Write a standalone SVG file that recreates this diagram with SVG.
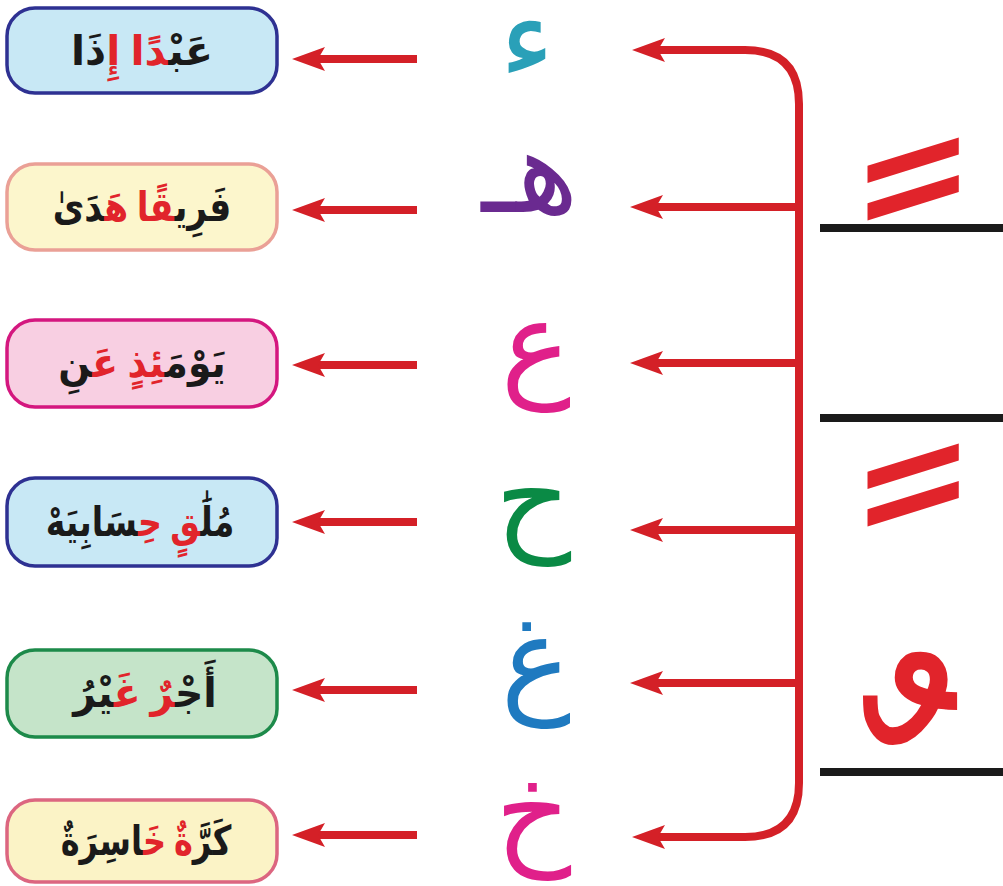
<svg xmlns="http://www.w3.org/2000/svg" width="1003" height="886" viewBox="0 0 1003 886">
<defs>
<style>
.box{stroke-width:3.5}
.word{font-family:"DejaVu Sans",sans-serif;font-size:41px;font-weight:bold;fill:#1a1a1a;text-anchor:middle;direction:rtl;word-spacing:-4px}
.r{fill:#e1242b}
.let{font-family:"DejaVu Sans",sans-serif;font-size:118px;text-anchor:middle;direction:rtl}
.arr{stroke:#d42027;stroke-width:8;fill:none}
.trunk{stroke:#d42027;stroke-width:8;fill:none}
.rule{stroke:#1a1a1a;stroke-width:8}
.mark{font-family:"DejaVu Sans",sans-serif;fill:#e1242b;text-anchor:middle}
</style>
<marker id="ah" viewBox="0 0 40 30" markerWidth="40" markerHeight="30" refX="14" refY="15" orient="auto" markerUnits="userSpaceOnUse">
<path d="M34,15 L1,3 L8,15 L1,27 Z" fill="#d42027"/>
</marker>
</defs>

<g id="word1">
<rect class="box" x="7" y="8" width="270" height="85" rx="28" fill="#c8e8f5" stroke="#2e3192"/>
<text class="word" transform="translate(142,65)">عَبْ<tspan class="r">دًا إِ</tspan>ذَا</text>
</g>
<g id="word2">
<rect class="box" x="7" y="164" width="270" height="86" rx="28" fill="#fcf6cc" stroke="#eaa096"/>
<text class="word" transform="translate(142,221) scale(0.84,1)">فَرِي<tspan class="r">قًا هَ</tspan>دَىٰ</text>
</g>
<g id="word3">
<rect class="box" x="7" y="320" width="270" height="87" rx="28" fill="#f8cfe2" stroke="#d4177f"/>
<text class="word" transform="translate(142,377) scale(0.92,1)">يَوْمَ<tspan class="r">ئِذٍ عَ</tspan>نِ</text>
</g>
<g id="word4">
<rect class="box" x="7" y="478" width="270" height="88" rx="28" fill="#c8e8f5" stroke="#2e3192"/>
<text class="word" transform="translate(140,536) scale(0.81,1)">مُلَٰ<tspan class="r">قٍ حِ</tspan>سَابِيَهْ</text>
</g>
<g id="word5">
<rect class="box" x="7" y="650" width="270" height="87" rx="28" fill="#c5e4c9" stroke="#1d8a4a"/>
<text class="word" transform="translate(145,707) scale(0.96,1)">أَجْ<tspan class="r">رٌ غَ</tspan>يْرُ</text>
</g>
<g id="word6">
<rect class="box" x="7" y="800" width="270" height="82" rx="28" fill="#fbf3c6" stroke="#dc6680"/>
<text class="word" transform="translate(146,855) scale(0.78,1)">كَرَّ<tspan class="r">ةٌ خَ</tspan>اسِرَةٌ</text>
</g>

<g id="letter-hamza"><text class="let" x="527" y="78" fill="#2aa0b8">ء</text></g>
<g id="letter-ha"><text class="let" x="530" y="212" fill="#6a2a90">هـ</text></g>
<g id="letter-ain"><text class="let" x="536" y="384" fill="#e0208a">ع</text></g>
<g id="letter-hha"><text class="let" x="533" y="538" fill="#0a8a45">ح</text></g>
<g id="letter-ghain"><text class="let" x="536" y="700" fill="#1f7ac0">غ</text></g>
<g id="letter-kha"><text class="let" x="533" y="852" fill="#e0208a">خ</text></g>

<g id="marks">
<text class="mark" font-size="320" transform="translate(884,408) skewY(-5)">&#160;ً</text>
<text class="mark" font-size="320" transform="translate(884,714) skewY(-5)">&#160;ً</text>
<text class="mark" font-size="330" transform="translate(880,940)">&#160;ٌ</text>
<line class="rule" x1="820" y1="228" x2="1003" y2="228"/>
<line class="rule" x1="820" y1="418" x2="1003" y2="418"/>
<line class="rule" x1="820" y1="772" x2="1003" y2="772"/>
</g>

<g id="connectors">
<path class="trunk" d="M799,440 V104 Q799,50 745,50 H652" marker-end="url(#ah)"/>
<path class="trunk" d="M799,440 V783 Q799,837 745,837 H652" marker-end="url(#ah)"/>
<path class="arr" d="M799,207 H650" marker-end="url(#ah)"/>
<path class="arr" d="M799,363 H650" marker-end="url(#ah)"/>
<path class="arr" d="M799,530 H650" marker-end="url(#ah)"/>
<path class="arr" d="M799,683 H650" marker-end="url(#ah)"/>
<path class="arr" d="M417,59 H312" marker-end="url(#ah)"/>
<path class="arr" d="M417,210 H312" marker-end="url(#ah)"/>
<path class="arr" d="M417,365 H312" marker-end="url(#ah)"/>
<path class="arr" d="M417,522 H312" marker-end="url(#ah)"/>
<path class="arr" d="M417,690 H312" marker-end="url(#ah)"/>
<path class="arr" d="M417,835 H312" marker-end="url(#ah)"/>
</g>
</svg>
